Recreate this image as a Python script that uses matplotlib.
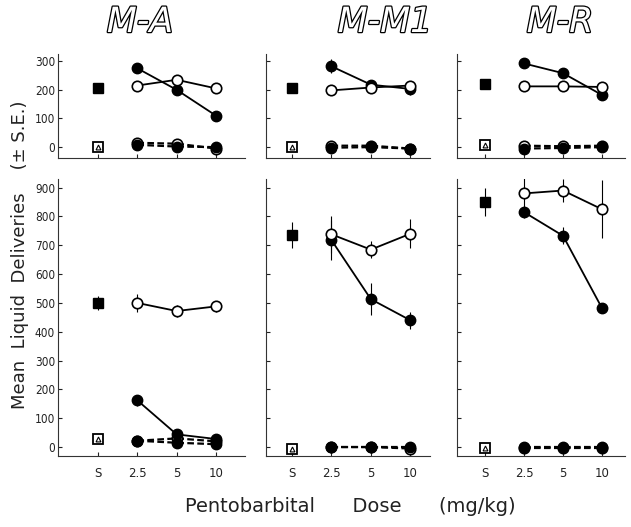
import matplotlib
matplotlib.use("Agg")
import matplotlib.pyplot as plt
import matplotlib.patheffects as pe
import numpy as np

doses = ["S", "2.5", "5", "10"]
panels = ["M-A", "M-M1", "M-R"]

# Top row (upper ordinate)
top_saline_filled = [205, 205, 222]
top_saline_filled_se = [10, 12, 15]
top_saline_open = [0, 0, 8]
top_filled_solid = [[275, 200, 110], [282, 218, 203], [292, 258, 182]]
top_filled_se = [[10, 8, 8], [25, 12, 20], [8, 10, 10]]
top_open_solid = [[215, 235, 205], [198, 208, 215], [212, 212, 210]]
top_open_se = [[8, 10, 8], [8, 8, 15], [8, 8, 8]]
top_filled_dash = [[8, 2, 0], [-2, 0, -5], [-5, -3, 0]]
top_open_dash = [[15, 12, -5], [5, 5, -5], [5, 3, 5]]

# Bottom row (lower ordinate)
bot_saline_filled = [500, 735, 850]
bot_saline_filled_se = [25, 45, 50]
bot_saline_open = [28, -5, -3]
bot_filled_solid = [[162, 44, 28], [718, 513, 440], [815, 733, 482]]
bot_filled_se = [[20, 15, 10], [70, 55, 30], [20, 30, 10]]
bot_open_solid = [[500, 472, 488], [738, 685, 740], [880, 890, 825]]
bot_open_se = [[30, 20, 20], [65, 30, 50], [60, 40, 100]]
bot_filled_dash = [[22, 15, 10], [0, 0, 0], [0, 0, 0]]
bot_open_dash = [[22, 30, 20], [0, 0, -5], [-3, -3, -3]]

W, H = 631, 527
fig = plt.figure(figsize=(W / 100, H / 100), dpi=100)

col_px = [(58, 245, -1.02, 3.74), (266, 430, -0.66, 3.5), (457, 625, -0.72, 3.59)]
row_px = [(54, 158, (-38, 325), [0, 100, 200, 300]),
          (179, 456, (-31, 930), list(range(0, 1000, 100)))]

rows = [
    (top_saline_filled, top_saline_filled_se, top_saline_open, top_filled_solid, top_filled_se,
     top_open_solid, top_open_se, top_filled_dash, top_open_dash),
    (bot_saline_filled, bot_saline_filled_se, bot_saline_open, bot_filled_solid, bot_filled_se,
     bot_open_solid, bot_open_se, bot_filled_dash, bot_open_dash),
]

ms = 7.5
for r, (ytop, ybot, ylim, yticks) in enumerate(row_px):
    sf, sfse, so, fs, fse, os_, ose, fd, od = rows[r]
    for c, (xl, xr, x0, x1) in enumerate(col_px):
        ax = fig.add_axes([xl / W, 1 - ybot / H, (xr - xl) / W, (ybot - ytop) / H])
        ax.set_xlim(x0, x1)
        ax.set_ylim(*ylim)
        for s in ["top", "right"]:
            ax.spines[s].set_visible(False)
        for s in ["left", "bottom"]:
            ax.spines[s].set_linewidth(0.8)
            ax.spines[s].set_color("#333333")
        ax.set_yticks(yticks)
        ax.set_xticks(range(len(doses)))
        ax.tick_params(direction="in", length=3, width=0.8, colors="#222222", labelsize=8.5, pad=2)
        if c == 0:
            ax.set_yticklabels([str(v) for v in yticks], fontstretch="condensed")
        else:
            ax.set_yticklabels([])
        if r == 1:
            ax.set_xticklabels(doses, fontsize=8.5)
            ax.tick_params(axis="x", pad=8)
        else:
            ax.set_xticklabels([])
        xd = np.arange(1, 4)
        # dashed series near zero
        ax.plot(xd, od[c], ls=(0, (3, 1.5)), color="black", lw=1.6, marker="o", ms=ms,
                mfc="white", mec="black", mew=1.2, zorder=3)
        ax.plot(xd, fd[c], ls=(0, (3, 1.5)), color="black", lw=1.6, marker="o", ms=ms,
                mfc="black", mec="black", zorder=3)
        ax.errorbar(xd, fd[c], yerr=[[0] * 3, [12, 12, 12]], fmt="none", ecolor="black",
                    elinewidth=0.8, capsize=0, zorder=2)
        # solid series
        ax.errorbar(xd, fs[c], yerr=fse[c], fmt="-o", color="black", lw=1.3, ms=ms,
                    mfc="black", mec="black", elinewidth=0.8, capsize=0, zorder=4)
        ax.errorbar(xd, os_[c], yerr=ose[c], fmt="-o", color="black", lw=1.3, ms=ms,
                    mfc="white", mec="black", mew=1.2, elinewidth=0.8, capsize=0, zorder=5)
        # saline
        ax.errorbar([0], [sf[c]], yerr=[sfse[c]], fmt="s", color="black", ms=ms,
                    mfc="black", mec="black", elinewidth=0.8, capsize=0, zorder=4)
        ax.plot([0], [so[c]], marker="s", ms=ms, mfc="white", mec="black", mew=1.3, ls="none", zorder=4)
        ax.plot([0], [so[c]], marker="^", ms=3.5, mfc="white", mec="black", mew=0.8, ls="none", zorder=5)

title_x = [140, 385, 560]
for t, x in zip(panels, title_x):
    fig.text(x / W, 1 - 22 / H, t, ha="center", va="center", fontsize=25, style="italic",
             color="white", family="DejaVu Sans",
             path_effects=[pe.Stroke(linewidth=1.8, foreground="black"), pe.Normal()])

fig.text(20 / W, 1 - 255 / H, "Mean  Liquid  Deliveries    (± S.E.)", rotation=90, ha="center",
         va="center", fontsize=13, color="#222222")
fig.text(350 / W, 1 - 507 / H, "Pentobarbital      Dose      (mg/kg)", ha="center", va="center",
         fontsize=14, color="#222222")

fig.savefig("out.png", dpi=100)
